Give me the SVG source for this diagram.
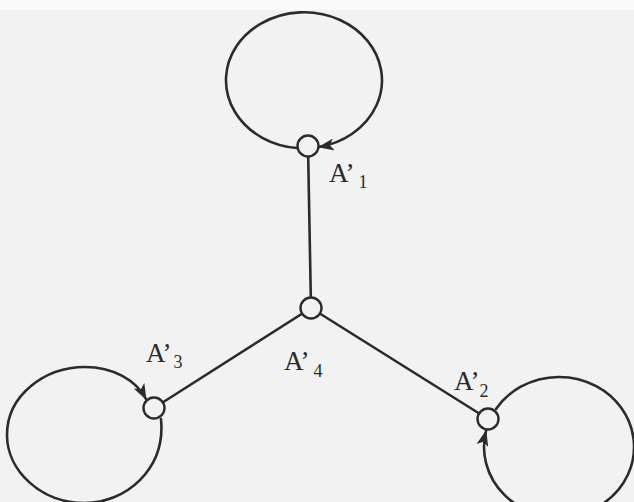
<svg xmlns="http://www.w3.org/2000/svg" width="634" height="502" viewBox="0 0 634 502">
<style>
  .edge { stroke: #2b2b2b; stroke-width: 2.6; fill: none; stroke-linecap: round; }
  .node { fill: #f2f2f2; stroke: #2b2b2b; stroke-width: 2.4; }
  .lbl { font-family: "Liberation Serif", "Times New Roman", serif; font-size: 27px; fill: #2b2b2b; }
  .sub { font-size: 18px; }
</style>
<defs>
  <marker id="arr" viewBox="0 0 16 12" refX="15" refY="6" markerWidth="17" markerHeight="12" markerUnits="userSpaceOnUse" orient="auto">
    <path d="M0,0 L16,6 L0,12 L4,6 Z" fill="#2b2b2b"/>
  </marker>
</defs>
<rect x="0" y="0" width="634" height="502" fill="#f2f2f2"/>
<rect x="0" y="0" width="634" height="10" fill="#fafafa"/>
<g id="connectors">
  <line class="edge" x1="308" y1="146" x2="311" y2="308"/>
  <line class="edge" x1="311" y1="308" x2="154" y2="408"/>
  <line class="edge" x1="311" y1="308" x2="488" y2="419"/>
  <path class="edge" d="M297,148 A78,68 0 1 1 319,147" marker-end="url(#arr)"/>
  <path class="edge" d="M161,419 C166,470 125,503 85,503 C40,503 7,470 7,435 C7,395 45,367 85,367 C113,367 136,380 146,399" marker-end="url(#arr)"/>
  <path class="edge" d="M496,409 A75,70 0 1 1 486,431" marker-end="url(#arr)"/>
</g>
<g id="A1">
  <circle class="node" cx="308" cy="146" r="10.5"/>
  <text class="lbl" x="329" y="182">A’<tspan class="sub" dx="4" dy="6">1</tspan></text>
</g>
<g id="A4">
  <circle class="node" cx="311" cy="308" r="10.5"/>
  <text class="lbl" x="284" y="370">A’<tspan class="sub" dx="4" dy="7">4</tspan></text>
</g>
<g id="A3">
  <circle class="node" cx="154" cy="408" r="10.5"/>
  <text class="lbl" x="146" y="362">A’<tspan class="sub" dx="2" dy="6">3</tspan></text>
</g>
<g id="A2">
  <circle class="node" cx="488" cy="419" r="10.5"/>
  <text class="lbl" x="454" y="390">A’<tspan class="sub" dx="0" dy="7">2</tspan></text>
</g>
</svg>
